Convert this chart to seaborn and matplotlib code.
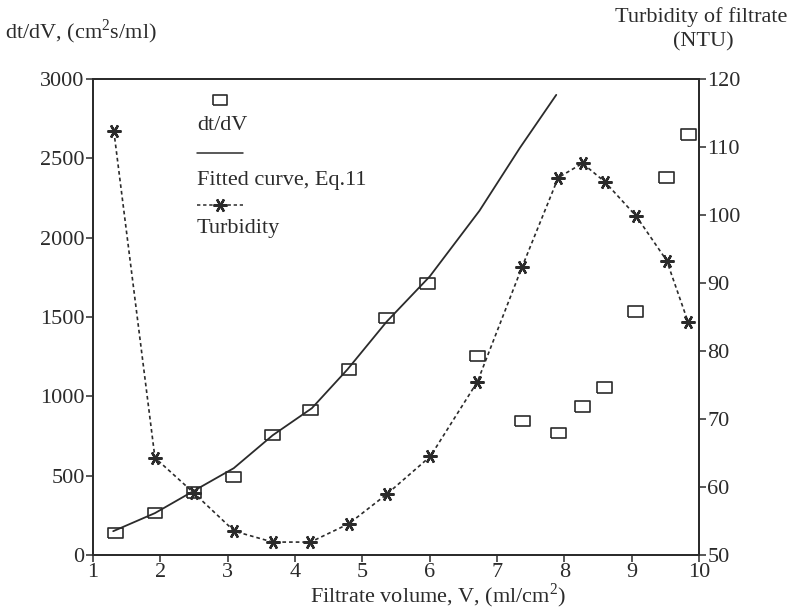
import numpy as np
import pandas as pd
import matplotlib
matplotlib.use("Agg")
import matplotlib.pyplot as plt
from matplotlib.lines import Line2D
import seaborn as sns

# Specific filtration resistance, measured (dt/dV, cm^2 s/ml)
vol_meas = [1.33, 1.92, 2.50, 3.09, 3.67, 4.23, 4.80, 5.36, 5.97, 6.71,
            7.38, 7.91, 8.27, 8.60, 9.06, 9.52, 9.84]
dtdv_meas = [140, 264, 395, 490, 755, 912, 1170, 1495, 1710, 1255,
             845, 770, 935, 1055, 1535, 2380, 2650]

# Fitted curve (Eq. 11)
vol_fit = [1.30, 1.92, 2.50, 3.09, 3.67, 4.25, 4.78, 5.36, 6.00, 6.74, 7.34, 7.88]
dtdv_fit = [150, 264, 405, 547, 755, 925, 1170, 1470, 1755, 2170, 2566, 2900]

# Filtrate turbidity (NTU)
vol_turb = [1.31, 1.92, 2.50, 3.10, 3.67, 4.23, 4.80, 5.37, 6.01, 6.71,
            7.37, 7.91, 8.27, 8.60, 9.07, 9.52, 9.84]
turb = [112.3, 64.3, 59.1, 53.5, 51.9, 51.9, 54.6, 59.0, 64.5, 75.5,
        92.3, 105.5, 107.6, 104.9, 99.8, 93.3, 84.2]

x_ticks = list(range(1, 11))
y_ticks = [0, 500, 1000, 1500, 2000, 2500, 3000]
y2_ticks = [50, 60, 70, 80, 90, 100, 110, 120]

sns.set_style("ticks")
plt.rcParams["font.family"] = ["Liberation Serif", "DejaVu Serif"]
plt.rcParams["mathtext.fontset"] = "custom"
plt.rcParams["mathtext.rm"] = "Liberation Serif"

ink = "#2b2b2b"
fs = 16
rect = [(-1.4, -1), (1.4, -1), (1.4, 1), (-1.4, 1), (-1.4, -1)]
star = (6, 2, 90)
dotted = (0, (2.2, 1.8))

fig = plt.figure(figsize=(7.9, 6.15), dpi=100)
ax = fig.add_axes([93 / 790, 1 - 555 / 615, (699 - 93) / 790, (555 - 79) / 615])
ax2 = ax.twinx()

meas = pd.DataFrame({"V": vol_meas, "dtdv": dtdv_meas})
fit = pd.DataFrame({"V": vol_fit, "dtdv": dtdv_fit})
tdf = pd.DataFrame({"V": vol_turb, "ntu": turb})

sns.lineplot(data=fit, x="V", y="dtdv", ax=ax, color=ink, linewidth=1.3,
             sort=False, estimator=None)
sns.scatterplot(data=meas, x="V", y="dtdv", ax=ax, marker=rect, s=110,
                facecolor="none", edgecolor=ink, linewidth=1.2, zorder=3)
sns.lineplot(data=tdf, x="V", y="ntu", ax=ax2, color=ink, linewidth=1.2,
             linestyle=dotted, marker=star, markersize=10, markeredgewidth=1.7,
             markeredgecolor=ink, sort=False, estimator=None)

ax.set_xlim(1, 10)
ax.set_ylim(0, 3000)
ax2.set_ylim(50, 120)
ax.set_xticks(x_ticks)
ax.set_yticks(y_ticks)
ax2.set_yticks(y2_ticks)
ax.set_xlabel("Filtrate volume, V, (ml/cm$^2$)", fontsize=fs, color=ink, labelpad=3)
ax.xaxis.set_label_coords(0.57, -0.055)
ax.set_ylabel("")
ax2.set_ylabel("")

for a in (ax, ax2):
    for s in a.spines.values():
        s.set_visible(True)
        s.set_color(ink)
        s.set_linewidth(1.3)
    a.tick_params(colors=ink, labelsize=fs, length=5, width=1.1, pad=1)
ax.tick_params(axis="x", pad=1)

# Axis titles placed above the frame
fig.text(5 / 790, 1 - 32 / 615, "dt/dV, (cm$^2$s/ml)", fontsize=fs, color=ink,
         va="center", ha="left")
fig.text(615 / 790, 1 - 17 / 615, "Turbidity of filtrate", fontsize=fs, color=ink,
         va="center", ha="left")
fig.text(703 / 790, 1 - 42 / 615, "(NTU)", fontsize=fs, color=ink,
         va="center", ha="center")

# Key drawn as symbol-over-text entries
def to_ax(px, py):
    return ((px - 93) / (699 - 93), (555 - py) / (555 - 79))

kx0, ky0 = to_ax(197, 100)
ax.add_line(Line2D([to_ax(220, 0)[0]], [ky0], marker=rect, markersize=10,
                   markerfacecolor="none", markeredgecolor=ink, markeredgewidth=1.2,
                   linestyle="none", transform=ax.transAxes))
ax.text(kx0, to_ax(0, 125)[1], "dt/dV", transform=ax.transAxes, fontsize=fs,
        color=ink, va="center", ha="left")
ax.add_line(Line2D([to_ax(197, 0)[0], to_ax(243, 0)[0]], [to_ax(0, 153)[1]] * 2,
                   color=ink, linewidth=1.1, transform=ax.transAxes))
ax.text(kx0, to_ax(0, 180)[1], "Fitted curve, Eq.11", transform=ax.transAxes,
        fontsize=fs, color=ink, va="center", ha="left")
ax.add_line(Line2D([to_ax(197, 0)[0], to_ax(220, 0)[0], to_ax(243, 0)[0]],
                   [to_ax(0, 205)[1]] * 3, color=ink, linewidth=1.1,
                   linestyle=dotted, marker=star, markevery=[1], markersize=10,
                   markeredgewidth=1.7, transform=ax.transAxes))
ax.text(kx0, to_ax(0, 228)[1], "Turbidity", transform=ax.transAxes, fontsize=fs,
        color=ink, va="center", ha="left")

fig.savefig("out.png", dpi=100, facecolor="white")
